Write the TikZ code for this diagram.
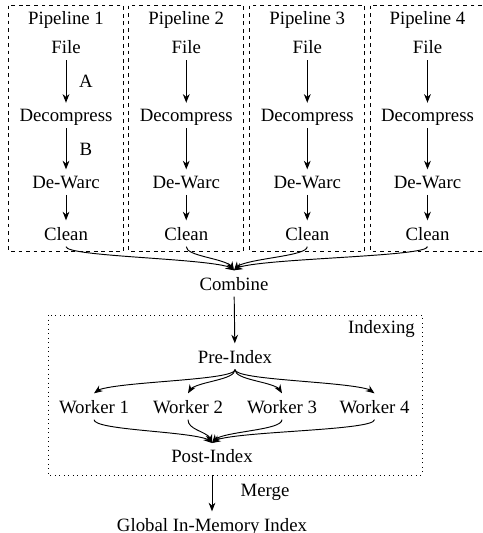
\documentclass[tikz,border=0pt]{standalone}
\usepackage{fontspec}
\setmainfont{Liberation Serif}
\usetikzlibrary{arrows.meta,bending}
\begin{document}
\begin{tikzpicture}[x=0.532pt,y=-0.532pt,
  lbl/.style={anchor=base, inner sep=3.33pt, text depth=0pt, font=\fontsize{10}{12}\selectfont},
  arr/.style={-{Stealth[length=4.6pt,width=3.6pt]}, line width=0.5pt},
  carr/.style={-{Stealth[length=4.6pt,width=3.6pt,flex]}, line width=0.5pt},
  pbox/.style={draw, line width=0.4pt, dash pattern=on 2pt off 2pt},
  ibox/.style={draw, line width=0.4pt, dotted},
]
\useasboundingbox (0,0) rectangle (483,533);

% pipelines
\foreach \i/\x in {1/66,2/186.25,3/307.25,4/427.5} {
  \draw[pbox] (\x-57.5,5.5) rectangle (\x+57.5,251);
  \node[lbl] (t\i) at (\x,24) {Pipeline \i};
  \node[lbl] (f\i) at (\x,53.5) {File};
  \node[lbl] (d\i) at (\x,121.7) {Decompress};
  \node[lbl] (w\i) at (\x,188.3) {De-Warc};
  \node[lbl] (c\i) at (\x,240) {Clean};
  \draw[arr] (f\i) -- (d\i);
  \draw[arr] (d\i) -- (w\i);
  \draw[arr] (w\i) -- (c\i);
}
\node[lbl] (la) at (86,87.7) {A};
\node[lbl] (lb) at (86,155.7) {B};

% combine
\node[lbl] (comb) at (234,290) {Combine};
\foreach \i in {1,2,3,4} {
  \draw[carr] (c\i.south) .. controls +(0,11) and +(0,-12) .. (comb.north);
}

% indexing
\draw[ibox] (48,315) rectangle (422,475);
\node[lbl, anchor=base east] (ix) at (421.5,333) {Indexing};
\node[lbl] (pre) at (235,363) {Pre-Index};
\draw[arr] (comb) -- (pre);
\foreach \i/\x in {1/94,2/188,3/282,4/374.5} {
  \node[lbl] (k\i) at (\x,413) {Worker \i};
}
\node[lbl] (post) at (212,462.7) {Post-Index};
\foreach \i in {1,2,3,4} {
  \draw[carr] (pre.south) .. controls +(0,12) and +(0,-12) .. (k\i.north);
  \draw[carr] (k\i.south) .. controls +(0,12) and +(0,-12) .. (post.north);
}

% merge
\coordinate (ixs) at (212,475);
\node[lbl] (glob) at (212,531) {Global In-Memory Index};
\draw[arr] (ixs) -- (glob.north);
\node[lbl] (merge) at (265,496.7) {Merge};
\end{tikzpicture}
\end{document}
